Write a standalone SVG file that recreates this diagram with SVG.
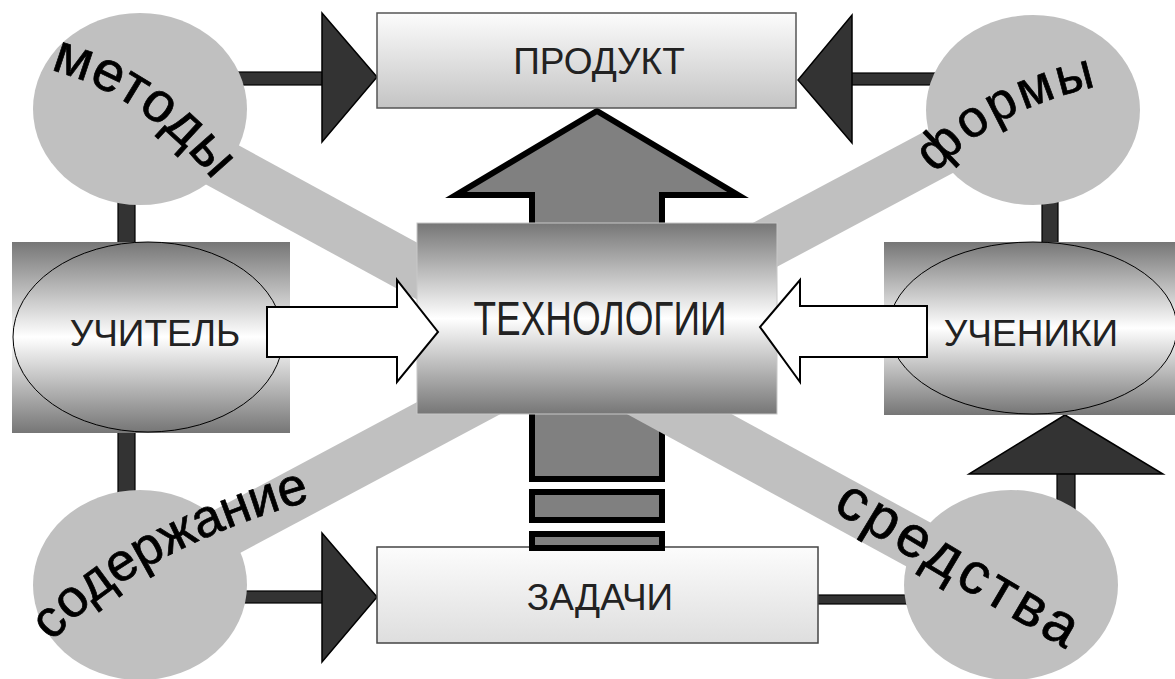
<svg xmlns="http://www.w3.org/2000/svg" width="1175" height="679" viewBox="0 0 1175 679">
<defs>
<linearGradient id="gMetal" x1="0" y1="0" x2="0" y2="1">
<stop offset="0" stop-color="#767676"/>
<stop offset="0.5" stop-color="#ffffff"/>
<stop offset="1" stop-color="#767676"/>
</linearGradient>
<linearGradient id="gProd" x1="0" y1="0" x2="0" y2="1">
<stop offset="0" stop-color="#fcfcfc"/>
<stop offset="1" stop-color="#c4c4c4"/>
</linearGradient>
<linearGradient id="gZad" x1="0" y1="0" x2="0" y2="1">
<stop offset="0" stop-color="#fcfcfc"/>
<stop offset="1" stop-color="#dedede"/>
</linearGradient>
<path id="pMet" d="M 50,70 Q 150,96 222,192"/>
<path id="pForm" d="M 936,174 Q 995,104 1120,82"/>
<path id="pSod" d="M 52,642 Q 140,545 335,494"/>
<path id="pSred" d="M 832,510 Q 955,585 1098,668"/>
</defs>
<style>
.band{stroke:#c0c0c0;stroke-width:50;fill:none}
.bar{fill:#333333;stroke:#000;stroke-width:1.2}
.head{fill:#333333;stroke:#000;stroke-width:1.5;stroke-linejoin:miter}
.circ{fill:#c0c0c0;stroke:none}
.metal{fill:url(#gMetal)}
.lbl{font-family:"Liberation Sans",Arial,sans-serif;font-size:37px;fill:#222;text-anchor:middle}
.word{font-family:"Liberation Sans",Arial,sans-serif;fill:#000;stroke:#000;stroke-width:0.7}
.big{fill:#808080;stroke:#000;stroke-width:6;stroke-miterlimit:10}
.white{fill:#fff;stroke:#000;stroke-width:2}
</style>
<rect width="1175" height="679" fill="#fff"/>
<g id="connectors">
<polygon class="big" points="597,111 738,195 662,195 662,479 532,479 532,195 456,195"/>
<line class="band" x1="140" y1="120" x2="1011" y2="595"/>
<line class="band" x1="1033" y1="102" x2="140" y2="578"/>
<rect class="bar" x="232" y="72" width="92" height="13"/>
<polygon class="head" points="322,13 322,142 377,77"/>
<rect class="bar" x="851" y="73" width="90" height="12"/>
<polygon class="head" points="852,15 852,143 798,80"/>
<rect class="bar" x="118" y="195" width="17" height="50"/>
<rect class="bar" x="118" y="430" width="17" height="65"/>
<rect class="bar" x="1042" y="195" width="16" height="50"/>
<rect class="bar" x="232" y="591" width="92" height="12"/>
<polygon class="head" points="322,533 322,662 377,597"/>
<rect class="bar" x="816" y="595" width="100" height="9"/>
<rect class="bar" x="1057" y="470" width="18" height="40"/>
<polygon class="head" points="969,474 1163,474 1065,415"/>
</g>
<g id="n-metody">
<ellipse class="circ" cx="140" cy="109" rx="107" ry="96"/>
</g>
<g id="n-formy">
<ellipse class="circ" cx="1033" cy="110" rx="107" ry="95"/>
</g>
<g id="n-soderzhanie">
<ellipse class="circ" cx="140" cy="585" rx="107" ry="95"/>
</g>
<g id="n-sredstva">
<ellipse class="circ" cx="1011" cy="585" rx="107" ry="95"/>
</g>
<g id="n-produkt">
<rect x="377" y="13" width="419" height="95" fill="url(#gProd)" stroke="#555" stroke-width="1.5"/>
<text class="lbl" x="599" y="74">ПРОДУКТ</text>
</g>
<g id="n-zadachi">
<rect x="377" y="547" width="441" height="96" fill="url(#gZad)" stroke="#444" stroke-width="1.5"/>
<text class="lbl" x="600" y="610">ЗАДАЧИ</text>
</g>
<g id="n-tehnologii">
<rect class="metal" x="417" y="223" width="360" height="191" stroke="#c8c8c8" stroke-width="1"/>
<text class="lbl" x="600" y="335" style="font-size:48px" textLength="253" lengthAdjust="spacingAndGlyphs">ТЕХНОЛОГИИ</text>
</g>
<g id="n-uchitel">
<rect class="metal" x="12" y="242" width="278" height="191"/>
<ellipse class="metal" cx="148" cy="337" rx="135" ry="95" stroke="#000" stroke-width="1"/>
<text class="lbl" x="155" y="346">УЧИТЕЛЬ</text>
</g>
<g id="n-ucheniki">
<rect class="metal" x="884" y="242" width="295" height="173"/>
<ellipse class="metal" cx="1033" cy="328" rx="144" ry="86" stroke="#000" stroke-width="1"/>
<text class="lbl" x="1031" y="346">УЧЕНИКИ</text>
</g>
<g id="connectors-front">
<polygon class="white" points="267,307 397,307 397,280 438,332 397,382 397,357 267,357"/>
<polygon class="white" points="927,306 800,306 800,280 760,327 800,382 800,357 927,357"/>
<rect class="big" x="532" y="492" width="130" height="28"/>
<rect class="big" x="532" y="534" width="130" height="14"/>
</g>
<g id="words">
<text class="word" font-size="56" letter-spacing="1"><textPath href="#pMet">методы</textPath></text>
<text class="word" font-size="52" letter-spacing="3"><textPath href="#pForm">формы</textPath></text>
<text class="word" font-size="53" letter-spacing="0"><textPath href="#pSod">содержание</textPath></text>
<text class="word" font-size="58" letter-spacing="4"><textPath href="#pSred">средства</textPath></text>
</g>
</svg>
